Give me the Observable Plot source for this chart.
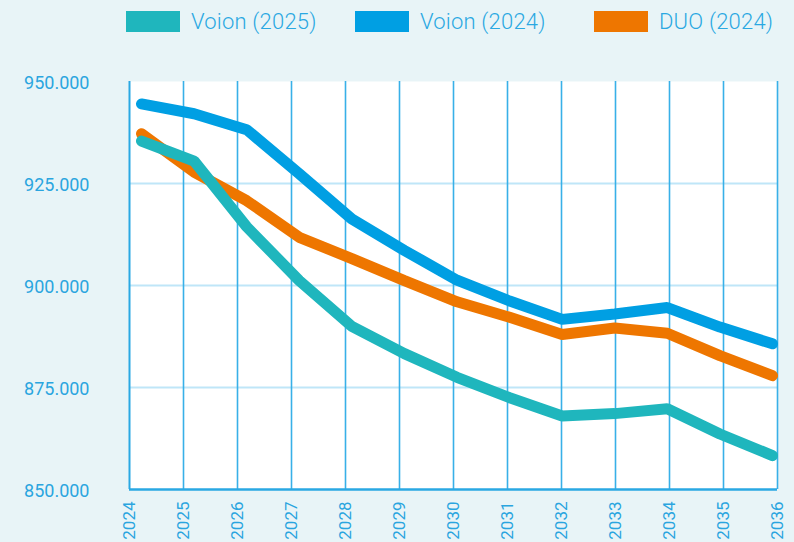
<!DOCTYPE html>
<html>
<head>
<meta charset="utf-8">
<script src="https://cdn.jsdelivr.net/npm/d3@7"></script>
<script src="https://cdn.jsdelivr.net/npm/@observablehq/plot@0.6"></script>
<style>
  html, body { margin: 0; padding: 0; background: #e8f4f7; }
  #wrap { position: relative; width: 794px; height: 542px; overflow: hidden; background: #e8f4f7; font-family: Roboto, "Noto Sans", sans-serif; }
  #wrap svg { position: absolute; left: 0; top: 0; }
  .legend-item { position: absolute; top: 11px; display: flex; align-items: center; height: 21px; }
  .legend-item .sw { width: 54px; height: 21px; }
  .legend-item .lab { margin-left: 11px; font-size: 22px; font-weight: 300; letter-spacing: 0.2px; color: #2aa8e2; white-space: nowrap; line-height: 21px; }
</style>
</head>
<body>
<div id="wrap"></div>
<script>
// ---- data ----
const years = [2024, 2025, 2026, 2027, 2028, 2029, 2030, 2031, 2032, 2033, 2034, 2035, 2036];
const seriesNames = ["Voion (2025)", "Voion (2024)", "DUO (2024)"];
const seriesColors = ["#1fb6bd", "#009fe3", "#ee7600"];
const voion2025 = [935400, 930500, 914400, 901200, 890000, 883300, 877500, 872500, 868000, 868600, 869800, 863600, 858300];
const voion2024 = [944500, 942100, 938200, 927400, 916300, 908600, 901300, 896200, 891700, 893000, 894600, 889800, 885700];
const duo2024   = [937200, 927800, 920800, 911800, 906600, 901200, 896000, 892200, 888000, 889600, 888300, 882800, 877900];
const yTicks = [850000, 875000, 900000, 925000, 950000];
const yGrid = [875000, 900000, 925000];

// ---- build table ----
const valuesBySeries = [voion2025, voion2024, duo2024];
const drawOrder = [2, 1, 0]; // DUO, Voion 2024, Voion 2025 on top
const rows = [];
for (const s of drawOrder) {
  years.forEach((yr, i) => rows.push({series: seriesNames[s], year: yr, value: valuesBySeries[s][i]}));
}

const fmt = d3.formatLocale({decimal: ",", thousands: ".", grouping: [3], currency: ["", ""]}).format(",.0f");
const textColor = "#2aa5df";
const W = 794, H = 542, MT = 81, MB = 53;

// Plot 1: frame, grid, axes
const base = Plot.plot({
  width: W, height: H,
  marginLeft: 129, marginRight: 17, marginTop: MT, marginBottom: MB,
  style: {background: "transparent", fontFamily: "Roboto, 'Noto Sans', sans-serif", fontSize: "18px", color: textColor},
  x: {domain: [2024, 2036]},
  y: {domain: [850000, 950000]},
  marks: [
    Plot.frame({fill: "white", stroke: null}),
    Plot.ruleY(yGrid, {stroke: "#bfe6f8", strokeWidth: 2}),
    Plot.ruleX(years.slice(1), {stroke: "#38b0e8", strokeWidth: 1.6}),
    Plot.ruleX([2024], {stroke: "#2aa8e3", strokeWidth: 2}),
    Plot.ruleY([850000], {stroke: "#2aa8e3", strokeWidth: 2.5}),
    Plot.axisY({ticks: yTicks, tickFormat: fmt, tickSize: 0, tickPadding: 40, dy: 2, label: null, fill: textColor, fontSize: 18}),
    Plot.axisX({ticks: years, tickFormat: d => String(d), tickSize: 0, tickPadding: 12, tickRotate: -90, label: null, fill: textColor, fontSize: 17})
  ]
});

// Plot 2: lines (slightly inset point positions, as in the reference)
const lines = Plot.plot({
  width: W, height: H,
  marginLeft: 141, marginRight: 22, marginTop: MT, marginBottom: MB,
  style: {background: "transparent"},
  x: {domain: [2024, 2036], axis: null},
  y: {domain: [850000, 950000], axis: null},
  color: {domain: seriesNames, range: seriesColors},
  marks: [
    Plot.line(rows, {x: "year", y: "value", z: "series", stroke: "series", strokeWidth: 11, strokeLinecap: "round", strokeLinejoin: "miter"})
  ]
});

const wrap = document.getElementById("wrap");
wrap.appendChild(base);
wrap.appendChild(lines);

// Legend (HTML, above the plot)
const legendLefts = [126, 355, 594];
seriesNames.forEach((name, i) => {
  const item = document.createElement("div");
  item.className = "legend-item";
  item.style.left = legendLefts[i] + "px";
  const sw = document.createElement("div");
  sw.className = "sw";
  sw.style.background = seriesColors[i];
  const lab = document.createElement("div");
  lab.className = "lab";
  lab.textContent = name;
  item.appendChild(sw);
  item.appendChild(lab);
  wrap.appendChild(item);
});
</script>
</body>
</html>
